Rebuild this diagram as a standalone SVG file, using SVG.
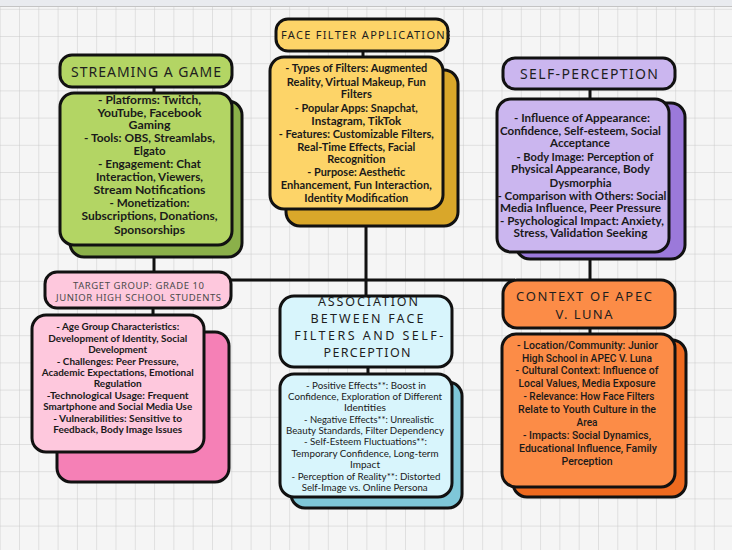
<svg xmlns="http://www.w3.org/2000/svg" width="732" height="550" viewBox="0 0 732 550">
<defs>
<pattern id="grid" x="-0.3" y="8.8" width="19.3" height="27.2" patternUnits="userSpaceOnUse">
<path d="M0 0V27.2M0 0H19.3" fill="none" stroke="#c4c4c4" stroke-width="0.9"/>
</pattern>
<clipPath id="ffclip"><rect x="277" y="19" width="173" height="31" rx="10"/></clipPath>
<style>
.bx{stroke:#111;stroke-width:3}
.ttl{font-family:"Noto Sans","DejaVu Sans",sans-serif;fill:#1e1e1e;text-anchor:middle}
.bd{font-family:Lato,"Open Sans",sans-serif;fill:#1a1a1a;text-anchor:middle}
.b12{font-size:11.2px;font-weight:700}
.b11{font-size:10.6px;font-weight:700}
.b10{font-size:9.6px;font-weight:700}
.r10{font-size:9.6px;font-weight:400}
.r11{font-size:10.8px;font-weight:500;font-family:Roboto,Lato,sans-serif}
.cn{stroke:#111;stroke-width:3;fill:none}
</style>
</defs>
<rect width="732" height="550" fill="#f5f5f5"/>
<rect width="732" height="550" fill="url(#grid)"/>
<rect width="732" height="6" fill="#e9ebef"/>
<line x1="0" y1="6.5" x2="732" y2="6.5" stroke="#c4c4c4" stroke-width="1"/>

<g id="connectors">
<line class="cn" x1="154" y1="80" x2="154" y2="290"/>
<line class="cn" x1="363" y1="45" x2="363" y2="70"/>
<line class="cn" x1="366" y1="200" x2="366" y2="310"/>
<line class="cn" x1="590" y1="80" x2="590" y2="300"/>
<line class="cn" x1="153" y1="300" x2="153" y2="330"/>
<line class="cn" x1="368" y1="350" x2="368" y2="390"/>
<line class="cn" x1="590" y1="300" x2="590" y2="345"/>
<line class="cn" x1="220" y1="280" x2="515" y2="280"/>
</g>

<g id="streaming-title">
<rect class="bx" x="60" y="55" width="172" height="32" rx="12" fill="#b3d564"/>
<text class="ttl" x="146" y="76.5" font-size="14" textLength="150" lengthAdjust="spacing">STREAMING A GAME</text>
</g>
<g id="streaming-details">
<rect class="bx" x="70" y="101" width="172" height="156" rx="14" fill="#8bb04a"/>
<rect class="bx" x="60" y="93" width="172" height="152" rx="14" fill="#b3d564"/>
<text class="bd b12" x="149.5" y="104" textLength="103" lengthAdjust="spacingAndGlyphs">- Platforms: Twitch,</text>
<text class="bd b12" x="149.5" y="116.5" textLength="104" lengthAdjust="spacingAndGlyphs">YouTube, Facebook</text>
<text class="bd b12" x="149.5" y="129" textLength="42" lengthAdjust="spacingAndGlyphs">Gaming</text>
<text class="bd b12" x="149.5" y="142.3" textLength="131" lengthAdjust="spacingAndGlyphs">- Tools: OBS, Streamlabs,</text>
<text class="bd b12" x="149.5" y="155" textLength="32" lengthAdjust="spacingAndGlyphs">Elgato</text>
<text class="bd b12" x="149.5" y="168.3" textLength="103" lengthAdjust="spacingAndGlyphs">- Engagement: Chat</text>
<text class="bd b12" x="149.5" y="181.3" textLength="107" lengthAdjust="spacingAndGlyphs">Interaction, Viewers,</text>
<text class="bd b12" x="149.5" y="194" textLength="112" lengthAdjust="spacingAndGlyphs">Stream Notifications</text>
<text class="bd b12" x="149.5" y="207.3" textLength="80" lengthAdjust="spacingAndGlyphs">- Monetization:</text>
<text class="bd b12" x="149.5" y="220" textLength="136" lengthAdjust="spacingAndGlyphs">Subscriptions, Donations,</text>
<text class="bd b12" x="149.5" y="234" textLength="71" lengthAdjust="spacingAndGlyphs">Sponsorships</text>
</g>

<g id="face-filter-title">
<rect class="bx" x="276" y="19" width="172" height="32" rx="12" fill="#fdd468"/>
<text class="ttl" x="281" y="38.5" font-size="11" style="text-anchor:start" textLength="171" lengthAdjust="spacing" clip-path="url(#ffclip)">FACE FILTER APPLICATIONS</text>
</g>
<g id="face-filter-details">
<rect class="bx" x="286" y="70" width="172" height="156" rx="14" fill="#d9a72a"/>
<rect class="bx" x="270" y="57" width="173" height="152" rx="14" fill="#fdd468"/>
<text class="bd b12" x="356.3" y="72.3" textLength="142" lengthAdjust="spacingAndGlyphs">- Types of Filters: Augmented</text>
<text class="bd b12" x="356.3" y="85.7" textLength="139" lengthAdjust="spacingAndGlyphs">Reality, Virtual Makeup, Fun</text>
<text class="bd b12" x="356.3" y="98.3" textLength="31" lengthAdjust="spacingAndGlyphs">Filters</text>
<text class="bd b12" x="356.3" y="111.7" textLength="123" lengthAdjust="spacingAndGlyphs">- Popular Apps: Snapchat,</text>
<text class="bd b12" x="356.3" y="125" textLength="90" lengthAdjust="spacingAndGlyphs">Instagram, TikTok</text>
<text class="bd b12" x="356.3" y="137.5" textLength="155" lengthAdjust="spacingAndGlyphs">- Features: Customizable Filters,</text>
<text class="bd b12" x="356.3" y="150.7" textLength="118" lengthAdjust="spacingAndGlyphs">Real-Time Effects, Facial</text>
<text class="bd b12" x="356.3" y="163" textLength="58" lengthAdjust="spacingAndGlyphs">Recognition</text>
<text class="bd b12" x="356.3" y="175.7" textLength="98" lengthAdjust="spacingAndGlyphs">- Purpose: Aesthetic</text>
<text class="bd b12" x="356.3" y="189" textLength="151" lengthAdjust="spacingAndGlyphs">Enhancement, Fun Interaction,</text>
<text class="bd b12" x="356.3" y="201.7" textLength="104" lengthAdjust="spacingAndGlyphs">Identity Modification</text>
</g>

<g id="self-perception-title">
<rect class="bx" x="503" y="58" width="172" height="31" rx="12" fill="#cbb6ef"/>
<text class="ttl" x="589" y="78.5" font-size="14" textLength="138" lengthAdjust="spacing">SELF-PERCEPTION</text>
</g>
<g id="self-perception-details">
<rect class="bx" x="516" y="103" width="169" height="156" rx="14" fill="#9b79da"/>
<rect class="bx" x="497" y="99" width="172" height="153" rx="14" fill="#cbb6ef"/>
<text class="bd b11" x="582" y="122.1" textLength="136" lengthAdjust="spacingAndGlyphs">- Influence of Appearance:</text>
<text class="bd b11" x="580.5" y="134.5" textLength="161" lengthAdjust="spacingAndGlyphs">Confidence, Self-esteem, Social</text>
<text class="bd b11" x="580" y="147.1" textLength="60" lengthAdjust="spacingAndGlyphs">Acceptance</text>
<text class="bd b11" x="585" y="160.5" textLength="137" lengthAdjust="spacingAndGlyphs">- Body Image: Perception of</text>
<text class="bd b11" x="580.5" y="173.1" textLength="139" lengthAdjust="spacingAndGlyphs">Physical Appearance, Body</text>
<text class="bd b11" x="580.5" y="186.5" textLength="62" lengthAdjust="spacingAndGlyphs">Dysmorphia</text>
<text class="bd b11" x="582" y="199.5" textLength="169" lengthAdjust="spacingAndGlyphs">- Comparison with Others: Social</text>
<text class="bd b11" x="580.5" y="212.1" textLength="161" lengthAdjust="spacingAndGlyphs">Media Influence, Peer Pressure</text>
<text class="bd b11" x="582" y="224.8" textLength="164" lengthAdjust="spacingAndGlyphs">- Psychological Impact: Anxiety,</text>
<text class="bd b11" x="580.5" y="237.1" textLength="134" lengthAdjust="spacingAndGlyphs">Stress, Validation Seeking</text>
</g>

<g id="target-group-title">
<rect class="bx" x="45" y="272" width="186" height="36" rx="12" fill="#fec8dd"/>
<text class="ttl" x="138.5" y="289" font-size="9.5" style="fill:#4a4a4a" textLength="131" lengthAdjust="spacing">TARGET GROUP: GRADE 10</text>
<text class="ttl" x="138.5" y="300.5" font-size="9.5" style="fill:#4a4a4a" textLength="165" lengthAdjust="spacing">JUNIOR HIGH SCHOOL STUDENTS</text>
</g>
<g id="target-group-details">
<rect class="bx" x="57" y="332" width="172" height="150" rx="14" fill="#f580b6"/>
<rect class="bx" x="32" y="315" width="172" height="137" rx="14" fill="#fec8dd"/>
<text class="bd b10" x="117.7" y="330.2" textLength="123" lengthAdjust="spacingAndGlyphs">- Age Group Characteristics:</text>
<text class="bd b10" x="117.7" y="341.8" textLength="139" lengthAdjust="spacingAndGlyphs">Development of Identity, Social</text>
<text class="bd b10" x="117.7" y="352.5" textLength="59" lengthAdjust="spacingAndGlyphs">Development</text>
<text class="bd b10" x="117.7" y="364.5" textLength="122" lengthAdjust="spacingAndGlyphs">- Challenges: Peer Pressure,</text>
<text class="bd b10" x="117.7" y="375.8" textLength="152" lengthAdjust="spacingAndGlyphs">Academic Expectations, Emotional</text>
<text class="bd b10" x="117.7" y="386.8" textLength="48" lengthAdjust="spacingAndGlyphs">Regulation</text>
<text class="bd b10" x="117.7" y="399.2" textLength="142" lengthAdjust="spacingAndGlyphs">-Technological Usage: Frequent</text>
<text class="bd b10" x="117.7" y="410.2" textLength="149" lengthAdjust="spacingAndGlyphs">Smartphone and Social Media Use</text>
<text class="bd b10" x="117.7" y="421.8" textLength="129" lengthAdjust="spacingAndGlyphs">- Vulnerabilities: Sensitive to</text>
<text class="bd b10" x="117.7" y="432.8" textLength="129" lengthAdjust="spacingAndGlyphs">Feedback, Body Image Issues</text>
</g>

<g id="association-title">
<rect class="bx" x="280" y="296" width="172" height="71" rx="14" fill="#d8f5fc"/>
<text class="ttl" x="368" y="305.5" font-size="12.5" textLength="100" lengthAdjust="spacing">ASSOCIATION</text>
<text class="ttl" x="367" y="322.7" font-size="12.5" textLength="113" lengthAdjust="spacing">BETWEEN FACE</text>
<text class="ttl" x="368.7" y="340" font-size="12.5" textLength="149" lengthAdjust="spacing">FILTERS AND SELF-</text>
<text class="ttl" x="367" y="356.7" font-size="12.5" textLength="87" lengthAdjust="spacing">PERCEPTION</text>
</g>
<g id="association-details">
<rect class="bx" x="291" y="382" width="171" height="126" rx="14" fill="#7fc7d8"/>
<rect class="bx" x="280" y="374" width="172" height="123" rx="14" fill="#d8f5fc"/>
<text class="bd r10" x="366" y="388.5" textLength="120" lengthAdjust="spacingAndGlyphs">- Positive Effects**: Boost in</text>
<text class="bd r10" x="365" y="400.2" textLength="154" lengthAdjust="spacingAndGlyphs">Confidence, Exploration of Different</text>
<text class="bd r10" x="365" y="410.8" textLength="42" lengthAdjust="spacingAndGlyphs">Identities</text>
<text class="bd r10" x="369" y="422.5" textLength="130" lengthAdjust="spacingAndGlyphs">- Negative Effects**: Unrealistic</text>
<text class="bd r10" x="365" y="433.5" textLength="158" lengthAdjust="spacingAndGlyphs">Beauty Standards, Filter Dependency</text>
<text class="bd r10" x="365.5" y="445.2" textLength="123" lengthAdjust="spacingAndGlyphs">- Self-Esteem Fluctuations**:</text>
<text class="bd r10" x="365" y="456.8" textLength="147" lengthAdjust="spacingAndGlyphs">Temporary Confidence, Long-term</text>
<text class="bd r10" x="365" y="467.5" textLength="30" lengthAdjust="spacingAndGlyphs">Impact</text>
<text class="bd r10" x="366" y="479.5" textLength="149" lengthAdjust="spacingAndGlyphs">- Perception of Reality**: Distorted</text>
<text class="bd r10" x="364.7" y="490.8" textLength="126" lengthAdjust="spacingAndGlyphs">Self-Image vs. Online Persona</text>
</g>

<g id="context-title">
<rect class="bx" x="503" y="280" width="172" height="48" rx="14" fill="#fc8c47"/>
<text class="ttl" x="584" y="301" font-size="13" textLength="136" lengthAdjust="spacing">CONTEXT OF APEC</text>
<text class="ttl" x="584" y="318.5" font-size="13" textLength="57" lengthAdjust="spacing">V. LUNA</text>
</g>
<g id="context-details">
<rect class="bx" x="513" y="340" width="173" height="157" rx="14" fill="#ef6a1f"/>
<rect class="bx" x="502" y="334" width="173" height="153" rx="14" fill="#fc8c47"/>
<text class="bd r11" x="587.5" y="349" textLength="141" lengthAdjust="spacingAndGlyphs">- Location/Community: Junior</text>
<text class="bd r11" x="587" y="361.7" textLength="130" lengthAdjust="spacingAndGlyphs">High School in APEC V. Luna</text>
<text class="bd r11" x="587" y="374" textLength="143" lengthAdjust="spacingAndGlyphs">- Cultural Context: Influence of</text>
<text class="bd r11" x="587" y="386.7" textLength="137" lengthAdjust="spacingAndGlyphs">Local Values, Media Exposure</text>
<text class="bd r11" x="589" y="399.7" textLength="131" lengthAdjust="spacingAndGlyphs">- Relevance: How Face Filters</text>
<text class="bd r11" x="587" y="413" textLength="138" lengthAdjust="spacingAndGlyphs">Relate to Youth Culture in the</text>
<text class="bd r11" x="587" y="425.7" textLength="21" lengthAdjust="spacingAndGlyphs">Area</text>
<text class="bd r11" x="587" y="439" textLength="128" lengthAdjust="spacingAndGlyphs">- Impacts: Social Dynamics,</text>
<text class="bd r11" x="588" y="451.7" textLength="138" lengthAdjust="spacingAndGlyphs">Educational Influence, Family</text>
<text class="bd r11" x="587" y="464.7" textLength="51" lengthAdjust="spacingAndGlyphs">Perception</text>
</g>
</svg>
